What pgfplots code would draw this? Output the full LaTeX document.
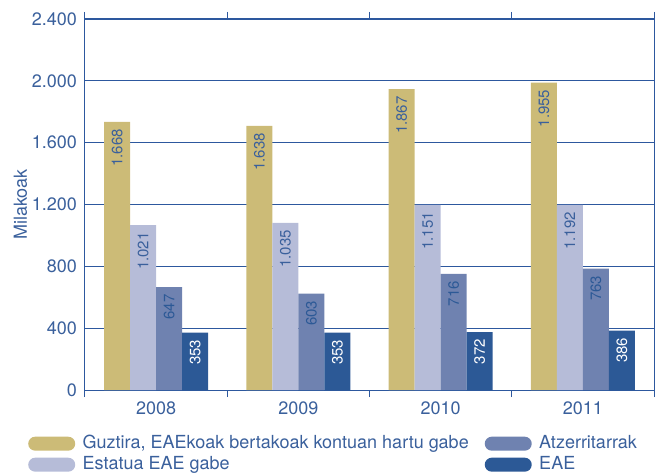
\documentclass[border=0pt]{standalone}
\usepackage{pgfplots}
\pgfplotsset{compat=1.18}
\usepackage{pgfplotstable}
\usepackage{fontspec}
\setmainfont{TeX Gyre Heros}
\definecolor{cgold}{RGB}{204,187,119}
\definecolor{clight}{RGB}{182,188,216}
\definecolor{cmid}{RGB}{111,130,176}
\definecolor{cdark}{RGB}{44,89,150}
\definecolor{cblue}{RGB}{45,88,158}
\definecolor{ctext}{RGB}{58,96,156}
\pgfplotstableread{
x gold goldlab light lightlab mid midlab dark darklab
0 1735 1.668 1066 1.021 665 647 371 353
1 1709 1.638 1081 1.035 623 603 371 353
2 1946 1.867 1197 1.151 751 716 375 372
3 1989 1.955 1197 1.192 785 763 384 386
}\data
\pgfplotsset{pill/.style={legend image code/.code={\fill[##1, rounded corners=7bp] (0bp,-7bp) rectangle (47bp,7bp);}}}
\begin{document}
\begin{tikzpicture}
\begin{axis}[
  scale only axis, width=569bp, height=371bp,
  xmin=-0.5, xmax=3.5, ymin=0, ymax=2400,
  ybar=0pt, bar width=26bp,
  xtick={0,1,2,3}, xticklabels={2008,2009,2010,2011},
  minor xtick={-0.5,0.5,1.5,2.5,3.5},
  ytick={0,400,...,2400},
  major tick length=0pt, minor tick length=7bp, tick align=outside,
  ymajorgrids, grid style={cblue, line width=0.8bp},
  axis line style={cblue, line width=1bp},
  minor tick style={cblue, line width=1bp},
  /pgf/number format/1000 sep={.},
  /pgf/number format/assume math mode=true,
  ticklabel style={font=\fontsize{18bp}{21bp}\selectfont, text=ctext},
  yticklabel style={inner sep=0pt, xshift=-8bp},
  xticklabel style={inner sep=0pt, yshift=-12bp},
  ylabel={Milakoak},
  ylabel style={at={(axis description cs:-0.1134,0.5)}, anchor=center, font=\fontsize{18bp}{21bp}\selectfont, text=ctext},
  nodes near coords, point meta=explicit symbolic,
  every node near coord/.append style={rotate=90, anchor=east, inner xsep=7bp, inner ysep=0pt, font=\fontsize{15bp}{17bp}\selectfont},
  legend columns=2, transpose legend, legend cell align=left,
  legend style={at={(axis description cs:-0.1054,-0.1159)}, anchor=north west, draw=none, fill=none,
    font=\fontsize{18bp}{21bp}\selectfont, text=ctext, row sep=4bp,
    nodes={inner sep=0pt, text height=13bp, text depth=4bp},
    /tikz/every odd column/.append style={column sep=7.5bp},
    /tikz/every even column/.append style={column sep=16bp}},
]
\addplot[fill=cgold, draw=none, pill, every node near coord/.append style={text=ctext}] table[x=x, y=gold, meta=goldlab] {\data};
\addlegendentry{Guztira, EAEkoak bertakoak kontuan hartu gabe}
\addplot[fill=clight, draw=none, pill, every node near coord/.append style={text=ctext}] table[x=x, y=light, meta=lightlab] {\data};
\addlegendentry{Estatua EAE gabe}
\addplot[fill=cmid, draw=none, pill, every node near coord/.append style={text=cdark}] table[x=x, y=mid, meta=midlab] {\data};
\addlegendentry{Atzerritarrak}
\addplot[fill=cdark, draw=none, pill, every node near coord/.append style={text=white}] table[x=x, y=dark, meta=darklab] {\data};
\addlegendentry{EAE}
\end{axis}
\pgfresetboundingbox
\path (-85bp,-85bp) rectangle (576bp,390bp);
\end{tikzpicture}
\end{document}
